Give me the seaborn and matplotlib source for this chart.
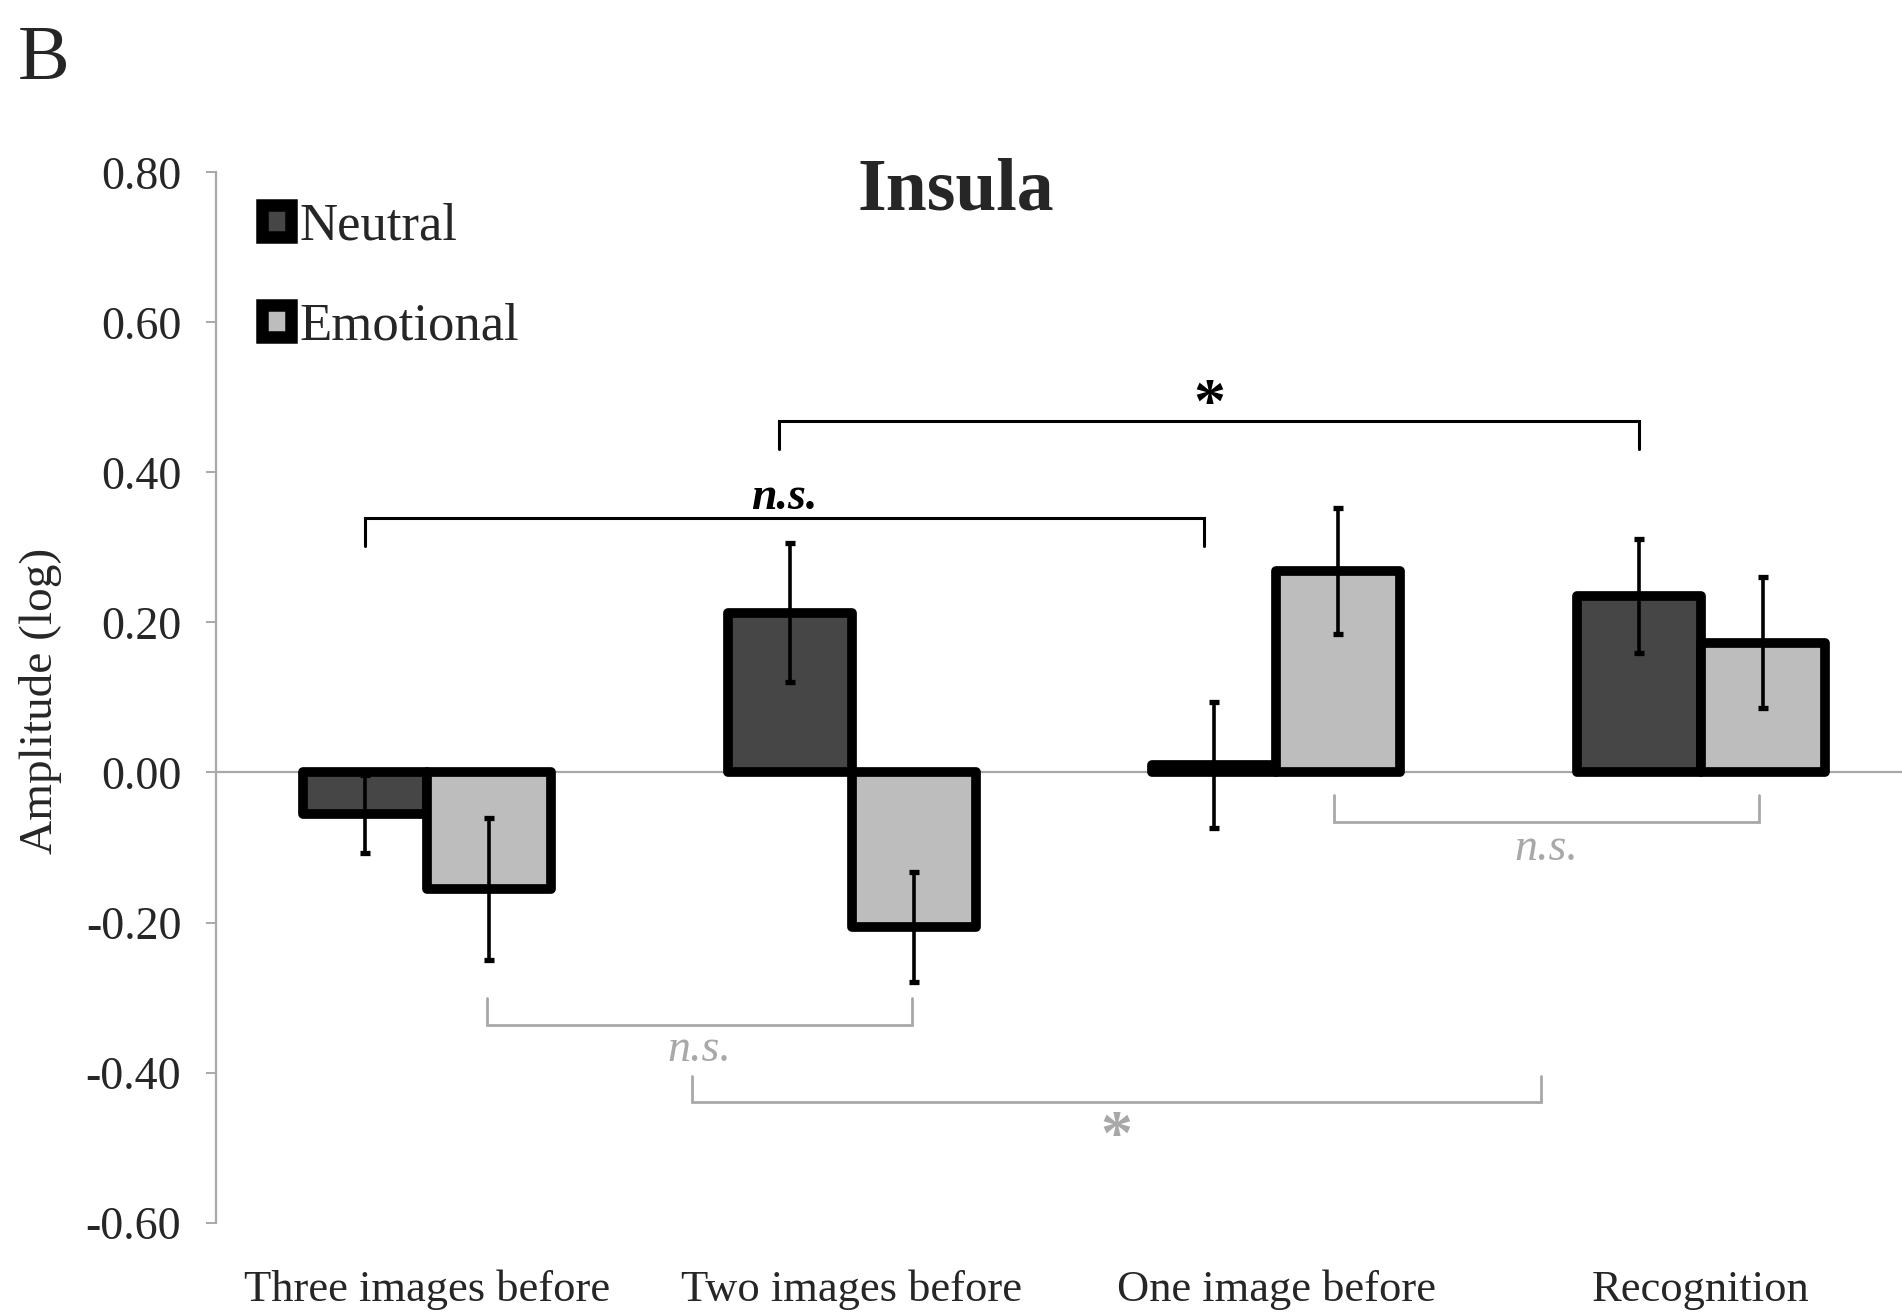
import matplotlib
matplotlib.use("Agg")
import numpy as np
import pandas as pd
import seaborn as sns
import matplotlib.pyplot as plt
from matplotlib.patches import Patch

# ---------------- data ----------------
categories = ["Three images before", "Two images before", "One image before", "Recognition"]
conditions = ["Neutral", "Emotional"]
neutral_vals = [-0.055, 0.213, 0.010, 0.235]
emotional_vals = [-0.155, -0.206, 0.269, 0.173]
neutral_err = [0.052, 0.093, 0.084, 0.076]
emotional_err = [0.095, 0.073, 0.084, 0.087]

ytick_vals = [-0.6, -0.4, -0.2, 0.0, 0.2, 0.4, 0.6, 0.8]
ytick_labels = ["-0.60", "-0.40", "-0.20", "0.00", "0.20", "0.40", "0.60", "0.80"]

# significance brackets (annotations)
br_x0 = [-0.146, 0.83, 0.14, 0.623, 2.137]
br_x1 = [1.83, 2.855, 1.143, 2.623, 3.137]
br_y = [0.339, 0.468, -0.336, -0.439, -0.066]
br_tip = [0.302, 0.431, -0.300, -0.405, -0.030]
br_text = ["n.s.", "*", "n.s.", "*", "n.s."]
br_text_y = [0.366, 0.487, -0.369, -0.488, -0.101]
br_dark = [True, True, False, False, False]

colors = {"Neutral": "#464646", "Emotional": "#bdbdbd"}
grey = "#a8a8a8"

df = pd.DataFrame({
    "Category": categories * 2,
    "Condition": ["Neutral"] * 4 + ["Emotional"] * 4,
    "Amplitude": neutral_vals + emotional_vals,
    "Err": neutral_err + emotional_err,
})

sns.set_style("white")
plt.rcParams["font.family"] = ["Liberation Serif", "DejaVu Serif"]

fig = plt.figure(figsize=(19.02, 13.12), dpi=100)
ax = fig.add_axes([0.1136, 0.0681, 0.8864, 0.8006])

ax.axhline(0, color=grey, lw=1.6, zorder=0.5)

sns.barplot(data=df, x="Category", y="Amplitude", hue="Condition",
            order=categories, hue_order=conditions, palette=colors,
            width=0.584, errorbar=None, edgecolor="black", linewidth=7,
            saturation=1, ax=ax, legend=False)

for p in ax.patches:
    p.set_joinstyle("round")
    p.set_zorder(2)

# error bars at the bar centres given by seaborn
bars = list(ax.patches)
n = len(categories)
for i, (vals, errs) in enumerate([(neutral_vals, neutral_err), (emotional_vals, emotional_err)]):
    group = bars[i * n:(i + 1) * n]
    xs = [b.get_x() + b.get_width() / 2 for b in group]
    ax.errorbar(xs, vals, yerr=errs, fmt="none", ecolor="black",
                elinewidth=2.6, capsize=3.5, capthick=3.8, zorder=4)

# brackets
for x0, x1, y, tip, txt, ty, dark in zip(br_x0, br_x1, br_y, br_tip, br_text, br_text_y, br_dark):
    c = "black" if dark else grey
    lw = 2.2 if dark else 2.0
    ax.plot([x0, x0, x1, x1], [tip, y, y, tip], color=c, lw=lw, zorder=3,
            solid_joinstyle="miter", clip_on=False)
    xm = (x0 + x1) / 2
    if txt == "*":
        ax.text(xm, ty, txt, ha="center", va="center", color=c,
                fontsize=46, fontweight="bold", clip_on=False)
    else:
        ax.text(xm, ty, txt, ha="center", va="center", color=c,
                fontsize=33, fontstyle="italic",
                fontweight="bold" if dark else "normal", clip_on=False)

ax.set_xlim(-0.497, 3.474)
ax.set_ylim(-0.6, 0.8)
ax.set_yticks(ytick_vals)
ax.set_yticklabels(ytick_labels)
ax.tick_params(axis="y", left=True, length=7, width=1.4, color=grey,
               pad=18, labelsize=33, direction="out")
ax.tick_params(axis="x", length=0, pad=34, labelsize=32)
ax.set_xlabel("")
ax.set_ylabel("Amplitude (log)", fontsize=34, va="center")
ax.yaxis.set_label_coords(-0.1044, 0.497)

for s in ["top", "right", "bottom"]:
    ax.spines[s].set_visible(False)
ax.spines["left"].set_color(grey)
ax.spines["left"].set_linewidth(1.6)

ax.text(0.439, 0.982, "Insula", transform=ax.transAxes, ha="center", va="center",
        fontsize=53, fontweight="bold")

handles = [Patch(facecolor=colors[c], edgecolor="black", linewidth=9, joinstyle="round")
           for c in conditions]
ax.legend(handles, conditions, loc="upper left", bbox_to_anchor=(0.027, 0.971),
          frameon=False, fontsize=38, handlelength=0.55, handleheight=0.55,
          handletextpad=0.17, labelspacing=0.98, borderpad=0, borderaxespad=0)

fig.text(18 / 1902, 1 - 79 / 1312, "B", fontsize=56, ha="left", va="baseline")

fig.savefig("out.png", dpi=100)
